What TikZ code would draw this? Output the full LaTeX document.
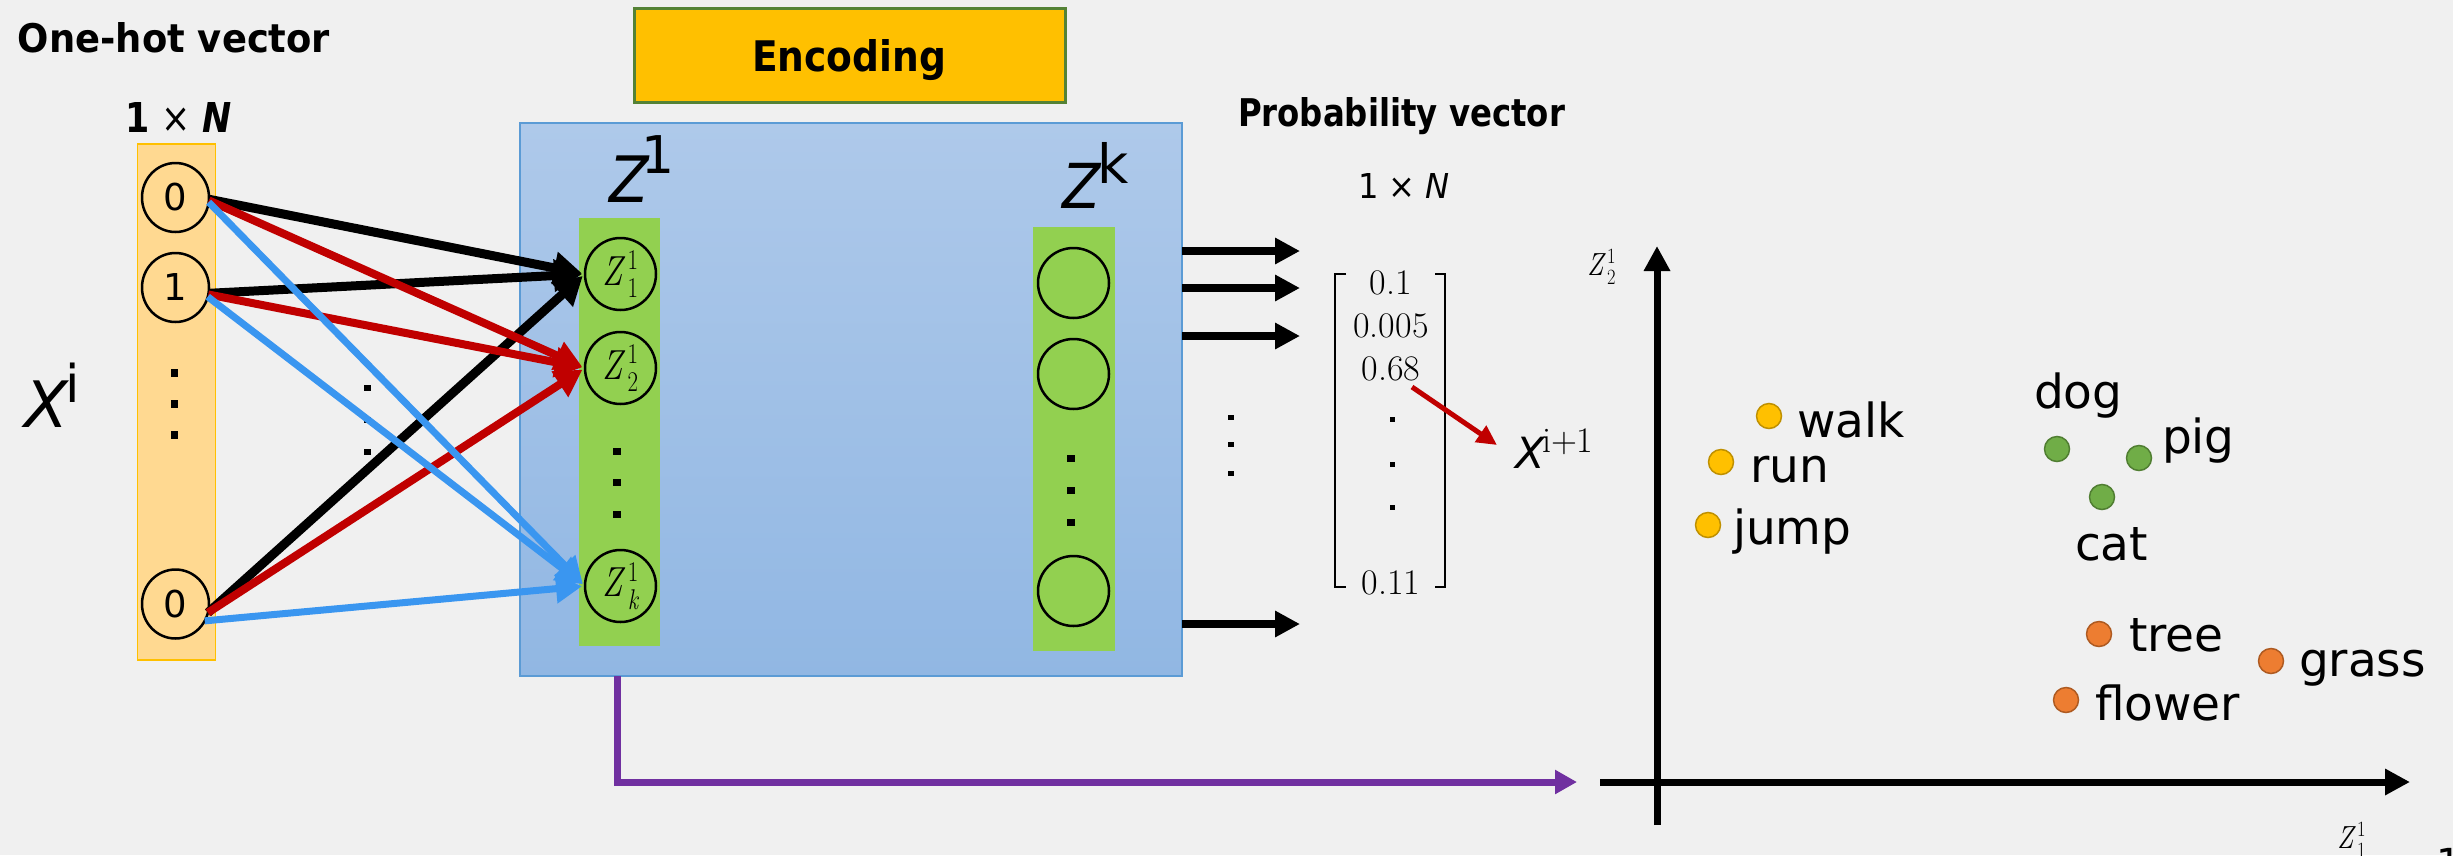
\documentclass[tikz,border=0pt]{standalone}
\usepackage{fontspec}
\setsansfont{DejaVu Sans}
\usetikzlibrary{arrows.meta,shapes.geometric}
\definecolor{bgc}{RGB}{240,240,240}
\definecolor{orfill}{RGB}{255,217,145}
\definecolor{ordraw}{RGB}{255,192,0}
\definecolor{gold}{RGB}{255,192,0}
\definecolor{encdraw}{RGB}{84,130,53}
\definecolor{btop}{RGB}{174,201,234}
\definecolor{bbot}{RGB}{145,183,227}
\definecolor{bdraw}{RGB}{91,155,213}
\definecolor{gcol}{RGB}{146,208,80}
\definecolor{darr}{RGB}{192,0,0}
\definecolor{barr}{RGB}{58,150,240}
\definecolor{parr}{RGB}{112,48,160}
\definecolor{ydot}{RGB}{255,192,0}
\definecolor{ydotd}{RGB}{191,144,0}
\definecolor{gdot}{RGB}{112,173,71}
\definecolor{gdotd}{RGB}{80,126,50}
\definecolor{odot}{RGB}{237,125,49}
\definecolor{odotd}{RGB}{174,90,33}
% Z with sub/superscript, built from text fonts
\newcommand{\zss}[2]{\textit{Z}\kern0.05em\rlap{\raisebox{0.37em}{\scalebox{0.68}{#2}}}\raisebox{-0.29em}{\scalebox{0.68}{#1}}}
\tikzset{
 lbl/.style={anchor=base west, font=\sffamily},
 incirc/.style={ellipse, draw=black, line width=2.5pt, minimum width=67pt, minimum height=69pt, font=\sffamily\fontsize{37pt}{40pt}\selectfont},
 zcirc/.style={ellipse, draw=black, line width=2.5pt, minimum width=71pt, minimum height=72pt, font=\fontsize{42pt}{46pt}\selectfont},
 vdot/.style={fill=black, rectangle, minimum width=7pt, minimum height=7pt},
 blkarr/.style={draw=black, line width=9pt, -{Triangle[length=28pt,width=31pt]}, shorten >=3pt},
 redarr/.style={draw=darr, line width=8pt, -{Triangle[length=27pt,width=29pt]}, shorten >=3pt},
 bluarr/.style={draw=barr, line width=7pt, -{Triangle[length=26pt,width=28pt]}, shorten >=3pt},
 outarr/.style={draw=black, line width=8pt, -{Triangle[length=25pt,width=25pt]}},
 axisline/.style={draw=black, line width=7pt, -{Triangle[length=25pt,width=25pt]}},
 scdot/.style={circle, minimum size=25pt, line width=1.5pt},
 word/.style={anchor=base west, font=\sffamily\fontsize{47pt}{56pt}\selectfont},
 mnum/.style={anchor=base, font=\fontsize{36pt}{40pt}\selectfont},
}
\begin{document}
\begin{tikzpicture}[x=1pt,y=-1pt, every node/.style={inner sep=0pt, outer sep=0pt}]
\useasboundingbox (0,0) rectangle (2453,855);
\fill[bgc] (0,0) rectangle (2453,855);

% titles
\node[lbl] (onehot) at (18,52) {\resizebox{312pt}{30pt}{\bfseries One-hot vector}};
\node[lbl] (dimL) at (125,132) {\resizebox{107pt}{30pt}{\bfseries 1 {\mdseries ×} \itshape N}};

% left one-hot column
\node[draw=ordraw, fill=orfill, line width=1.5pt, minimum width=78pt, minimum height=516pt] (ocol) at (176.5,402) {};
\node[incirc] (l0a) at (175.5,197.5) {\raisebox{-2pt}{0}};
\node[incirc] (l1) at (175.5,287.5) {\raisebox{-2pt}{1}};
\node[incirc] (l0b) at (175.5,604) {\raisebox{-2pt}{0}};
\node[vdot, minimum height=8pt] (ld1) at (174,373) {};
\node[vdot, minimum height=8pt] (ld2) at (174,404) {};
\node[vdot, minimum height=8pt] (ld3) at (174,435) {};

% X^i
\node[lbl, font=\sffamily\itshape\fontsize{64pt}{70pt}\selectfont] (xi) at (24,427) {X};
\node[lbl, font=\sffamily\fontsize{52pt}{60pt}\selectfont] (xisup) at (65,402) {i};

% encoding
\node[draw=encdraw, fill=gold, line width=3pt, minimum width=431pt, minimum height=94pt] (enc) at (849.5,55) {};
\node[lbl] (enctext) at (752,71) {\resizebox{194pt}{32pt}{\bfseries Encoding}};

% blue box
\node[draw=bdraw, line width=1.5pt, top color=btop, bottom color=bbot, minimum width=662pt, minimum height=553pt] (blue) at (851,399.5) {};

% Z^1 and Z^k labels
\node[lbl, font=\sffamily\itshape\fontsize{64pt}{70pt}\selectfont] (zlab) at (609,202) {\scalebox{0.9}[1]{Z}};
\node[lbl, font=\sffamily\fontsize{52pt}{60pt}\selectfont] (zlabsup) at (641,173) {1};
\node[lbl, font=\sffamily\itshape\fontsize{62pt}{70pt}\selectfont] (zklab) at (1062,208) {\scalebox{0.9}[1]{Z}};
\node[lbl, font=\sffamily\fontsize{54pt}{60pt}\selectfont] (zklabsup) at (1097,183) {k};

% green columns
\node[fill=gcol, minimum width=81pt, minimum height=428pt] (gcolA) at (619.5,432) {};
\node[fill=gcol, minimum width=82pt, minimum height=424pt] (gcolB) at (1074,439) {};

\node[zcirc] (za) at (620.5,274) {\raisebox{-10pt}{\scalebox{0.8}[1]{\zss{1}{1}}}};
\node[zcirc] (zb) at (620.5,368) {\raisebox{-10pt}{\scalebox{0.8}[1]{\zss{2}{1}}}};
\node[zcirc] (zk) at (620.5,586) {\raisebox{-10pt}{\scalebox{0.8}[1]{\zss{\itshape k}{1}}}};
\node[vdot, minimum width=8pt] (zd1) at (617,451) {};
\node[vdot, minimum width=8pt] (zd2) at (617,482) {};
\node[vdot, minimum width=8pt] (zd3) at (617,514) {};

\node[zcirc, minimum height=70pt] (ra) at (1073.5,283) {};
\node[zcirc, minimum height=70pt] (rb) at (1073.5,374) {};
\node[zcirc, minimum height=70pt] (rc) at (1073.5,591) {};
\node[vdot, minimum width=8pt] (rd1) at (1071,458) {};
\node[vdot, minimum width=8pt] (rd2) at (1071,490) {};
\node[vdot, minimum width=8pt] (rd3) at (1071,522) {};

% middle dots
\node[vdot, minimum height=6pt] (md1) at (367,388) {};
\node[vdot, minimum height=6pt] (md2) at (367,420) {};
\node[vdot, minimum height=6pt] (md3) at (367,452) {};

% connections
\draw[blkarr] (l0a.-3) -- (za.west);
\draw[blkarr] (l1.-10) -- (za.west);
\draw[blkarr] (l0b.-15) -- (za.west);
\draw[redarr] (l0a.-5) -- (zb.west);
\draw[redarr] (l1.-12) -- (zb.west);
\draw[redarr] (l0b.-15) -- (zb.west);
\draw[bluarr] (l0a.-8) -- (zk.west);
\draw[bluarr] (l1.-16) -- (zk.west);
\draw[bluarr] (l0b.-30) -- (zk.west);

% outputs
\draw[outarr] (blue.east |- 0,251) -- ++(118,0);
\draw[outarr] (blue.east |- 0,288) -- ++(118,0);
\draw[outarr] (blue.east |- 0,336) -- ++(118,0);
\draw[outarr] (blue.east |- 0,624) -- ++(118,0);
\node[vdot, minimum width=6pt, minimum height=5pt] (od1) at (1231,417) {};
\node[vdot, minimum width=6pt, minimum height=5pt] (od2) at (1231,444) {};
\node[vdot, minimum width=6pt, minimum height=5pt] (od3) at (1231,473) {};

% probability vector
\node[lbl] (probt) at (1238,126) {\resizebox{327pt}{29pt}{\bfseries Probability vector}};
\node[lbl] (dimR) at (1358,198) {\resizebox{92pt}{25pt}{1 × \itshape N}};
\draw[line width=2.5pt] (1346,274) -- (1335,274) -- (1335,587) -- (1346,587);
\draw[line width=2.5pt] (1435,274) -- (1445,274) -- (1445,587) -- (1435,587);
\node[mnum] (e1) at (1391,294) {0.1};
\node[mnum] (e2) at (1391,337) {0.005};
\node[mnum] (e3) at (1391,380) {0.68};
\node[mnum] (e4) at (1391,594) {0.11};
\node[vdot, minimum width=5pt, minimum height=5pt] (pd1) at (1392,419) {};
\node[vdot, minimum width=5pt, minimum height=5pt] (pd2) at (1392,464) {};
\node[vdot, minimum width=5pt, minimum height=5pt] (pd3) at (1392,507) {};

% X^{i+1}
\node[lbl, font=\sffamily\itshape\fontsize{43pt}{50pt}\selectfont] (xn) at (1515,468) {X};
\node[lbl, font=\fontsize{36pt}{40pt}\selectfont] (xnsup) at (1542,452) {i+1};
\coordinate (rs) at (1412,387);
\coordinate (re) at (1497,445);
\draw[draw=darr, line width=5pt, -{Triangle[length=20pt,width=19pt]}] (rs) -- (re);

% purple
\coordinate (pend) at (1577,782);
\draw[draw=parr, line width=7pt, -{Triangle[length=22pt,width=23pt]}] (blue.south -| 617,0) |- (pend);

% axes
\coordinate (yb) at (1657,825);
\coordinate (yt) at (1657,246);
\coordinate (xl) at (1600,782);
\coordinate (xr) at (2410,782);
\draw[axisline] (yb) -- (yt);
\draw[axisline] (xl) -- (xr);
\node[anchor=base west, font=\fontsize{32pt}{36pt}\selectfont] (ay) at (1587,275) {\scalebox{0.85}[1]{\zss{2}{1}}};
\node[anchor=base west, font=\fontsize{32pt}{36pt}\selectfont] (ax) at (2337,848) {\scalebox{0.85}[1]{\zss{1}{1}}};
\node[lbl, font=\sffamily\fontsize{40pt}{44pt}\selectfont] (pagenum) at (2436,877) {1};

% scatter
\node[scdot, fill=ydot, draw=ydotd] (dwalk) at (1769,416) {};
\node[scdot, fill=ydot, draw=ydotd] (drun) at (1721,462) {};
\node[scdot, fill=ydot, draw=ydotd] (djump) at (1708,525) {};
\node[scdot, fill=gdot, draw=gdotd] (ddog) at (2057,449) {};
\node[scdot, fill=gdot, draw=gdotd] (dpig) at (2139,458) {};
\node[scdot, fill=gdot, draw=gdotd] (dcat) at (2102,497) {};
\node[scdot, fill=odot, draw=odotd] (dtree) at (2099,634) {};
\node[scdot, fill=odot, draw=odotd] (dgrass) at (2271,661) {};
\node[scdot, fill=odot, draw=odotd] (dflower) at (2066,700) {};
\node[word] (twalk) at (1797,437) {walk};
\node[word] (trun) at (1750,482) {run};
\node[word] (tjump) at (1733,544) {jump};
\node[word] (tdog) at (2034,408) {dog};
\node[word] (tpig) at (2162,453) {pig};
\node[word] (tcat) at (2075,560) {cat};
\node[word] (ttree) at (2129,651) {tree};
\node[word] (tgrass) at (2299,676) {grass};
\node[word] (tflower) at (2095,720) {flower};
\end{tikzpicture}
\end{document}
